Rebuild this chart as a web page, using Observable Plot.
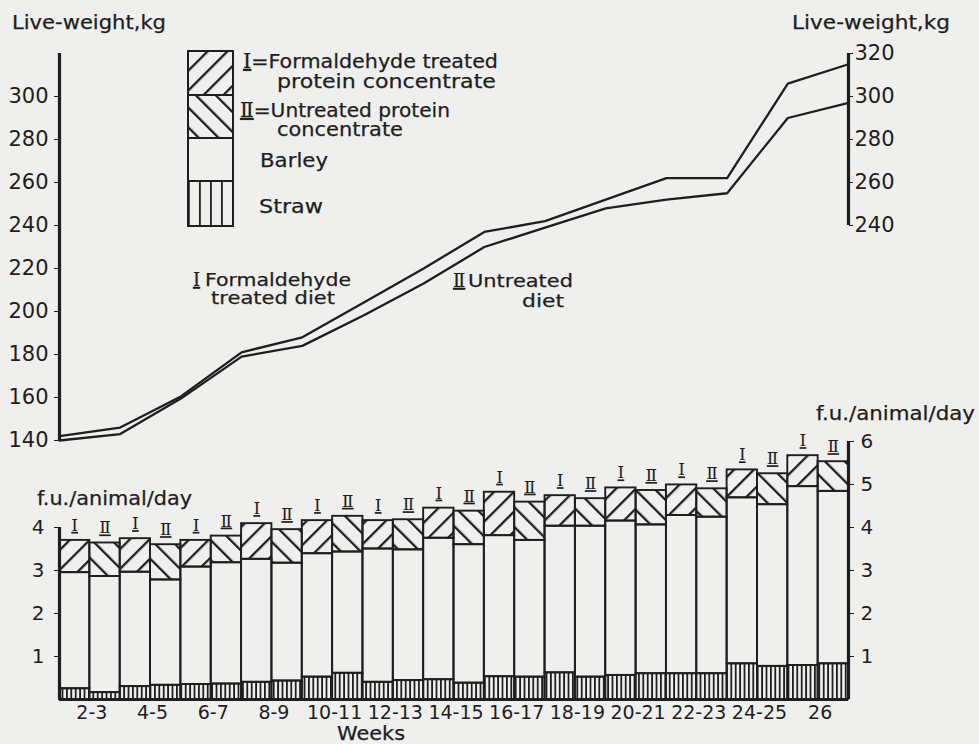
<!DOCTYPE html>
<html><head><meta charset="utf-8">
<script src="https://cdn.jsdelivr.net/npm/d3@7"></script>
<script src="https://cdn.jsdelivr.net/npm/@observablehq/plot@0.6"></script>
<style>
body{margin:0;background:#efefed;}
#wrap{position:relative;width:979px;height:744px;overflow:hidden;background:#efefed;font-family:"DejaVu Sans",sans-serif;}
#wrap svg{position:absolute;left:0;overflow:visible;}
.roman{font-family:"DejaVu Serif",serif;text-decoration:underline;}
</style></head><body>
<svg width="0" height="0" style="position:absolute">
<defs>
<pattern id="hatchI" patternUnits="userSpaceOnUse" width="14" height="14" patternTransform="rotate(45)"><rect x="0" y="0" width="2.3" height="14" fill="#1e1e1e"/></pattern>
<pattern id="hatchII" patternUnits="userSpaceOnUse" width="14" height="14" patternTransform="rotate(-45)"><rect x="0" y="0" width="2.3" height="14" fill="#1e1e1e"/></pattern>
<pattern id="straw" patternUnits="userSpaceOnUse" width="4.4" height="10"><rect x="0" y="0" width="1.8" height="10" fill="#1e1e1e"/></pattern>
<pattern id="strawLegend" patternUnits="userSpaceOnUse" width="11" height="10" x="188"><rect x="0" y="0" width="1.8" height="10" fill="#1e1e1e"/></pattern>
</defs></svg>
<div id="wrap"></div>
<script>
// ---- data ----
const weightWeeks = [2,4,6,8,10,12,14,16,18,20,22,24,26,28];
const weightI  = [142,146,160.5,181,188,204,220,237,242,252,262,262,306,315];
const weightII = [140,143,159.5,179,184,198,213,230,239,248,252,255,290,297];

const periodStart  = [2,4,6,8,10,12,14,16,18,20,22,24,26];
const periodLabels = ["2-3","4-5","6-7","8-9","10-11","12-13","14-15","16-17","18-19","20-21","22-23","24-25","26"];

const strawI    = [0.25,0.30,0.35,0.40,0.52,0.40,0.46,0.53,0.62,0.56,0.60,0.83,0.79];
const barleyI   = [2.70,2.66,2.73,2.86,2.87,3.10,3.29,3.28,3.41,3.59,3.68,3.86,4.16];
const proteinI  = [0.75,0.78,0.62,0.83,0.77,0.66,0.70,1.01,0.71,0.77,0.71,0.65,0.72];
const strawII   = [0.16,0.33,0.36,0.43,0.61,0.44,0.38,0.52,0.52,0.60,0.60,0.77,0.83];
const barleyII  = [2.70,2.45,2.82,2.74,2.82,3.04,3.22,3.18,3.51,3.46,3.64,3.76,4.01];
const proteinII = [0.78,0.82,0.62,0.78,0.83,0.70,0.78,0.89,0.64,0.80,0.66,0.72,0.69];

const dietLabels = ["Ⅰ","Ⅱ"];
const weightTicksLeft  = [140,160,180,200,220,240,260,280,300];
const weightTicksRight = [240,260,280,300,320];
const feedTicksLeft  = [1,2,3,4];
const feedTicksRight = [1,2,3,4,5,6];
const weightDomain = [140,320];
const feedDomain = [0,6];
const weekDomain = [2,28];

const ink = "#1e1e1e";
const wrap = document.getElementById("wrap");

// ---- weight plot ----
const weightPlot = Plot.plot({
  width: 979, height: 450,
  marginLeft: 59, marginRight: 131, marginTop: 53, marginBottom: 10,
  x: {domain: weekDomain, axis: null},
  y: {domain: weightDomain},
  style: {background: "transparent", fontFamily: "DejaVu Sans", color: ink, overflow: "visible"},
  marks: [
    Plot.ruleX([weekDomain[0]], {y1: weightDomain[0], y2: weightDomain[1], stroke: ink, strokeWidth: 3.2}),
    Plot.ruleX([weekDomain[1]], {y1: weightTicksRight[0], y2: weightDomain[1], stroke: ink, strokeWidth: 3.2}),
    Plot.axisY({anchor: "left", ticks: weightTicksLeft, tickFormat: d => String(d), tickSize: 5, tickPadding: 6, fontSize: 21, label: null, stroke: ink}),
    Plot.axisY({anchor: "right", ticks: weightTicksRight, tickFormat: d => String(d), tickSize: 4, tickPadding: 2, fontSize: 21, label: null, stroke: ink}),
    Plot.line(weightWeeks, {x: d => d, y: (d, i) => weightI[i], stroke: ink, strokeWidth: 2.3}),
    Plot.line(weightWeeks, {x: d => d, y: (d, i) => weightII[i], stroke: ink, strokeWidth: 2.3})
  ]
});
weightPlot.style.top = "0px";
wrap.appendChild(weightPlot);

// ---- feed bars ----
const bars = [];
const tops = [];
periodStart.forEach((w, k) => {
  [[strawI, barleyI, proteinI], [strawII, barleyII, proteinII]].forEach(([s, b, p], j) => {
    const x1 = w + j, x2 = w + j + 1;
    const a = s[k], bTop = s[k] + b[k], t = bTop + p[k];
    bars.push({x1, x2, part: "straw", y1: 0, y2: a});
    bars.push({x1, x2, part: "barley", y1: a, y2: bTop});
    bars.push({x1, x2, part: j ? "proteinII" : "proteinI", y1: bTop, y2: t});
    tops.push({x: w + j + 0.5, y: t, label: dietLabels[j]});
  });
});
const part = p => bars.filter(d => d.part === p);
const rectOpts = (fill) => ({x1: "x1", x2: "x2", y1: "y1", y2: "y2", fill, stroke: ink, strokeWidth: 1.9});

const feedPlot = Plot.plot({
  width: 979, height: 314,
  marginLeft: 59, marginRight: 131, marginTop: 11, marginBottom: 45,
  x: {domain: weekDomain},
  y: {domain: feedDomain},
  style: {background: "transparent", fontFamily: "DejaVu Sans", color: ink, overflow: "visible"},
  marks: [
    Plot.rect(part("straw"), rectOpts("url(#straw)")),
    Plot.rect(part("barley"), rectOpts("none")),
    Plot.rect(part("proteinI"), rectOpts("url(#hatchI)")),
    Plot.rect(part("proteinII"), rectOpts("url(#hatchII)")),
    Plot.text(tops, {x: "x", y: "y", text: "label", dy: -15, fontSize: 17, fontFamily: "DejaVu Serif", fill: ink}),
    Plot.ruleY([feedDomain[0]], {x1: weekDomain[0], x2: weekDomain[1], stroke: ink, strokeWidth: 3.2}),
    Plot.ruleX([weekDomain[0]], {y1: feedDomain[0], y2: feedTicksLeft[feedTicksLeft.length - 1], stroke: ink, strokeWidth: 3.2}),
    Plot.ruleX([weekDomain[1]], {y1: feedDomain[0], y2: feedDomain[1], stroke: ink, strokeWidth: 3.2}),
    Plot.axisY({anchor: "left", ticks: feedTicksLeft, tickFormat: d => String(d), tickSize: 5, tickPadding: 10, fontSize: 20, label: null, stroke: ink}),
    Plot.axisY({anchor: "right", ticks: feedTicksRight, tickFormat: d => String(d), tickSize: 5, tickPadding: 7, fontSize: 20, label: null, stroke: ink}),
    Plot.axisX({ticks: periodStart.map(w => w + 1), tickFormat: d => periodLabels[periodStart.indexOf(d - 1)], tickSize: 0, tickPadding: 6, fontSize: 19, dx: 2, label: null})
  ]
});
feedPlot.style.top = "430px";
wrap.appendChild(feedPlot);
// roman numerals above the bars: serif with underline
d3.select(feedPlot).selectAll("text")
  .filter(function () { return dietLabels.includes(this.textContent); })
  .classed("roman", true);

// ---- overlay: titles, legend, annotations ----
const ov = d3.select(wrap).append("svg").attr("width", 979).attr("height", 744).style("top", "0px")
  .attr("font-family", "DejaVu Sans").attr("fill", ink);
function txt(x, y, s, size, len, roman) {
  const t = ov.append("text").attr("x", x).attr("y", y).attr("font-size", size)
    .attr("stroke", ink).attr("stroke-width", 0.25);
  if (roman) {
    t.append("tspan").attr("class", "roman").text(roman);
  }
  t.append("tspan").text(s);
  if (len) t.attr("textLength", len).attr("lengthAdjust", "spacingAndGlyphs");
  return t;
}
txt(12, 29, "Live-weight,kg", 19.5, 154);
txt(792, 29, "Live-weight,kg", 19.5, 158);
txt(37, 505, "f.u./animal/day", 19.5, 155);
txt(816, 420, "f.u./animal/day", 19.5, 159);
txt(337, 740, "Weeks", 19.5, 68);

// legend boxes
const legendRows = [
  {fill: "url(#hatchI)", y1: 51, y2: 95},
  {fill: "url(#hatchII)", y1: 95, y2: 138},
  {fill: "none", y1: 138, y2: 181},
  {fill: "url(#strawLegend)", y1: 181, y2: 226}
];
ov.selectAll("rect.leg").data(legendRows).join("rect").attr("class", "leg")
  .attr("x", 188).attr("width", 45).attr("y", d => d.y1).attr("height", d => d.y2 - d.y1)
  .attr("fill", d => d.fill).attr("stroke", ink).attr("stroke-width", 2);
txt(243, 68, "=Formaldehyde treated", 19.5, 255, "Ⅰ");
txt(277, 88, "protein  concentrate", 19.5, 219);
txt(240, 117, "=Untreated protein", 19.5, 210, "Ⅱ");
txt(277, 136, "concentrate", 19.5, 126);
txt(260, 167, "Barley", 19.5, 68);
txt(259, 213, "Straw", 19.5, 64);

// line annotations
txt(193, 286, "", 18, null, "Ⅰ");
txt(205, 286, "Formaldehyde", 18.5, 146);
txt(211, 304, "treated diet", 18.5, 124);
txt(453, 287, "", 18, null, "Ⅱ");
txt(468, 287, "Untreated", 18.5, 105);
txt(522, 307, "diet", 18.5, 42);
</script>
</body></html>
